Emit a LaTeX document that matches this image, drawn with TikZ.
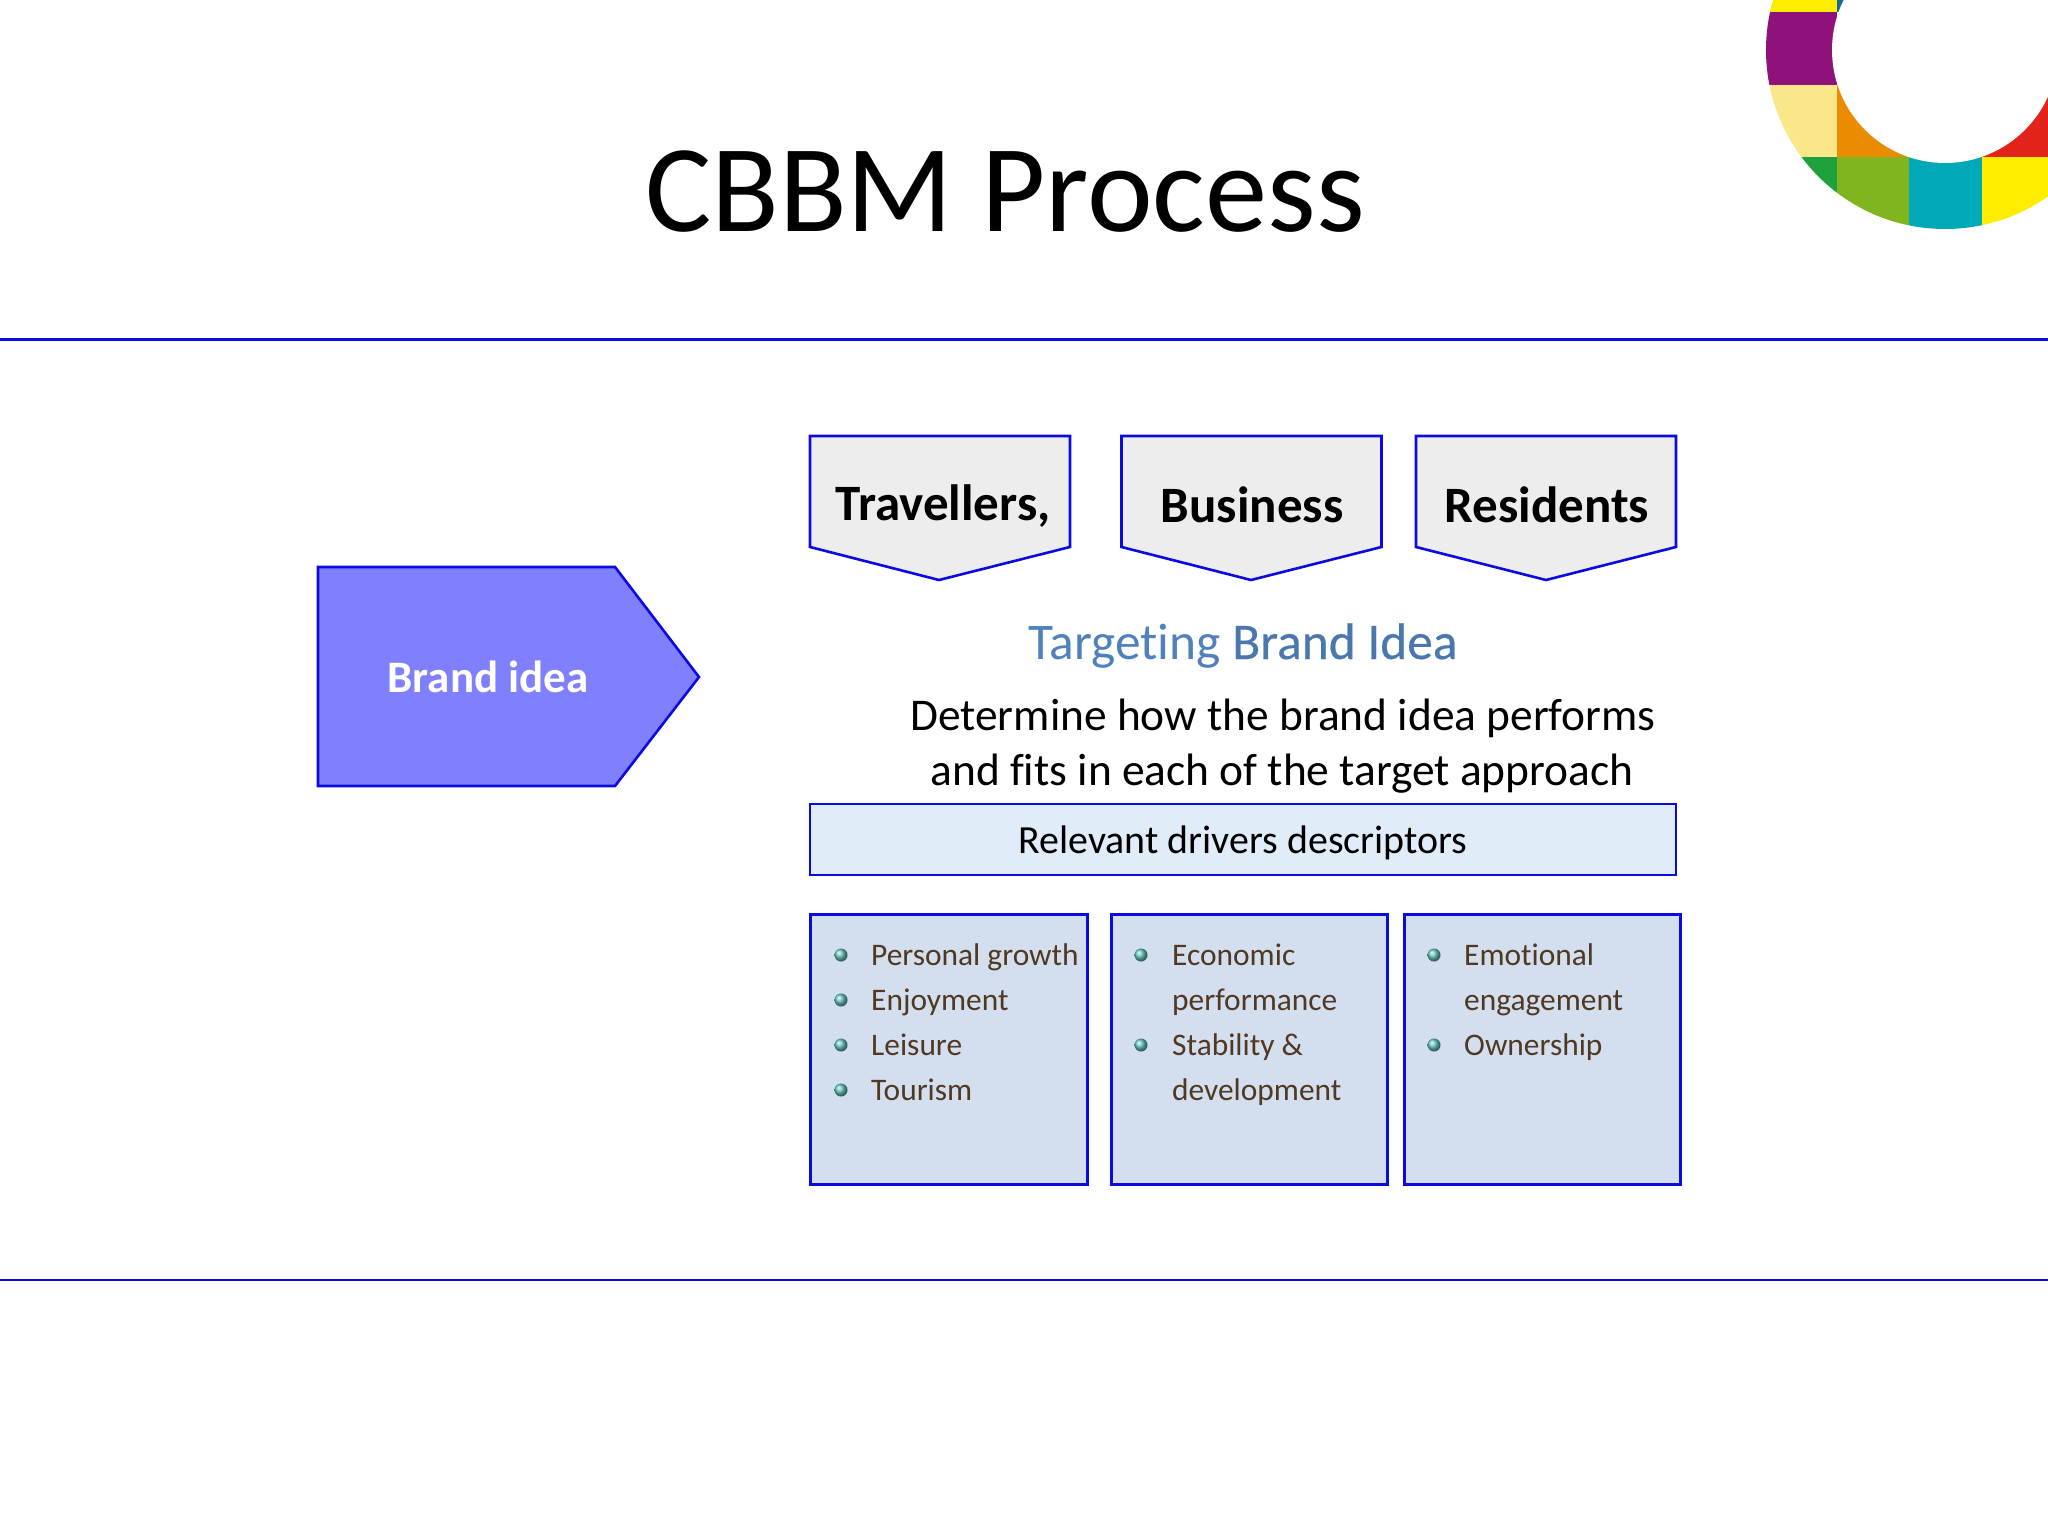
\documentclass[tikz,border=0pt]{standalone}
\usepackage{fontspec}
\setmainfont{Carlito}[Ligatures=NoCommon]
\usetikzlibrary{calc}
\definecolor{lineblue}{RGB}{10,10,225}
\definecolor{tabgrey}{RGB}{237,237,238}
\definecolor{brandfill}{RGB}{128,128,255}
\definecolor{barfill}{RGB}{224,236,248}
\definecolor{boxfill}{RGB}{211,223,238}
\definecolor{listtext}{RGB}{80,56,34}
\definecolor{headblue}{RGB}{79,129,189}
\definecolor{bullet}{RGB}{105,200,195}
\definecolor{ringyellow}{RGB}{255,237,0}
\definecolor{ringblue}{RGB}{20,105,150}
\definecolor{ringpurple}{RGB}{143,18,122}
\definecolor{ringpale}{RGB}{249,231,138}
\definecolor{ringorange}{RGB}{235,139,0}
\definecolor{ringred}{RGB}{226,35,26}
\definecolor{ringdark}{RGB}{30,160,60}
\definecolor{ringgreen}{RGB}{128,181,31}
\definecolor{ringteal}{RGB}{0,168,184}
\newcommand{\fsz}[1]{\fontsize{#1}{#1}\selectfont}
\tikzset{
  x=1pt, y=-1pt,
  rule/.style={draw=lineblue, line width=2.8pt},
  outline/.style={draw=lineblue, line width=2.6pt, line join=miter},
  tab/.style={outline, fill=tabgrey},
  box/.style={outline, line width=3pt, fill=boxfill},
  tabtext/.style={anchor=base, inner sep=0pt, font=\fsz{51}\bfseries},
  bodytext/.style={anchor=base, inner sep=0pt, font=\fsz{45.4}},
  item/.style={anchor=base west, inner sep=0pt, text=listtext, font=\fsz{31.4}},
  dot/.style={circle, inner sep=0pt, minimum size=13pt, ball color=bullet, draw=none},
}
\begin{document}
\begin{tikzpicture}
\useasboundingbox (0,0) rectangle (2048,1536);
\fill[white] (0,0) rectangle (2048,1536);

% colour ring in the corner
\begin{scope}
  \clip (1945,50) circle (179);
  \fill[ringyellow] (1760,-60) rectangle (1837,12);
  \fill[ringblue]   (1837,-60) rectangle (1909,12);
  \fill[ringpurple] (1760,12) rectangle (1837,85);
  \fill[ringpale]   (1760,85) rectangle (1837,157);
  \fill[ringorange] (1837,85) rectangle (1909,157);
  \fill[ringred]    (1982,85) rectangle (2054,157);
  \fill[ringdark]   (1760,157) rectangle (1837,240);
  \fill[ringgreen]  (1837,157) rectangle (1909,240);
  \fill[ringteal]   (1909,157) rectangle (1982,240);
  \fill[ringyellow] (1982,157) rectangle (2054,240);
\end{scope}
\fill[white] (1945,50) circle (113);

% title and rules
\node[anchor=base, inner sep=0pt, font=\fsz{124.5}] (title) at (1005,231) {CBBM Process};
\draw[rule] (0,339.5) -- (2048,339.5);
\draw[rule] (0,1280) -- (2048,1280);

% brand idea arrow
\draw[outline, fill=brandfill] (318,567) -- (615,567) -- (699,677) -- (615,786) -- (318,786) -- cycle;
\node[anchor=base, inner sep=0pt, text=white, font=\fsz{45}\bfseries] (brand) at (488,692) {Brand idea};

% target tabs
\draw[tab] (810,436) -- (1070,436) -- (1070,547) -- (939,580) -- (810,547) -- cycle;
\draw[tab] (1121.5,436) -- (1381.5,436) -- (1381.5,547) -- (1251,580) -- (1121.5,547) -- cycle;
\draw[tab] (1416,436) -- (1676,436) -- (1676,547) -- (1546,580) -- (1416,547) -- cycle;
\node[tabtext] (trav) at (943,520) {Travellers,};
\node[tabtext] (busi) at (1252,522) {Business};
\node[tabtext] (resi) at (1547,522) {Residents};

% middle texts
\node[anchor=base, inner sep=0pt, text=headblue, font=\fsz{51.4}] (head) at (1243,659)
  {Targeting {\addfontfeature{FakeBold=0.4}\color{headblue!92!black}Brand Idea}};
\node[bodytext] (det1) at (1283,730) {Determine how the brand idea performs};
\node[bodytext] (det2) at (1282,785) {and fits in each of the target approach};
\draw[outline, line width=2.2pt, fill=barfill] (810,804) rectangle (1676,875);
\node[anchor=base, inner sep=0pt, font=\fsz{39.9}] (bar) at (1243,853) {Relevant drivers descriptors};

% driver boxes
\draw[box] (810.5,914) rectangle (1087,1184);
\draw[box] (1111.5,914) rectangle (1387,1184);
\draw[box] (1404.5,914) rectangle (1680,1184);

\node[dot] (b1) at (841,955) {};
\node[dot] (b2) at (841,1000) {};
\node[dot] (b3) at (841,1045) {};
\node[dot] (b4) at (841,1090) {};
\node[item] (t1) at (871,965) {Personal growth};
\node[item] (t2) at (871,1010) {Enjoyment};
\node[item] (t3) at (871,1055) {Leisure};
\node[item] (t4) at (871,1100) {Tourism};

\node[dot] (b5) at (1141,955) {};
\node[dot] (b6) at (1141,1045) {};
\node[item] (t5) at (1172,965) {Economic};
\node[item] (t6) at (1172,1010) {performance};
\node[item] (t7) at (1172,1055) {Stability \&};
\node[item] (t8) at (1172,1100) {development};

\node[dot] (b7) at (1434,955) {};
\node[dot] (b8) at (1434,1045) {};
\node[item] (t9) at (1464,965) {Emotional};
\node[item] (t10) at (1464,1010) {engagement};
\node[item] (t11) at (1464,1055) {Ownership};
\end{tikzpicture}
\end{document}
